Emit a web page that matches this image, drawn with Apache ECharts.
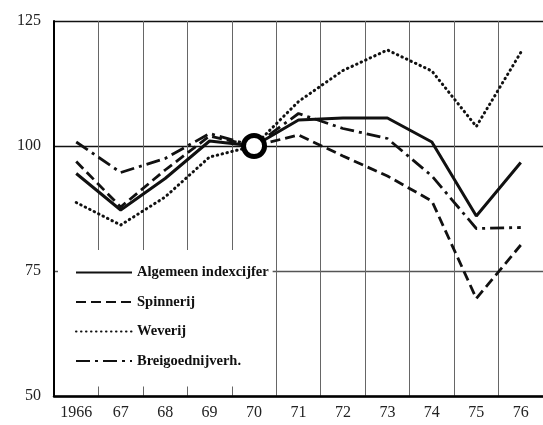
<!DOCTYPE html>
<html lang="nl">
<head>
    <meta charset="UTF-8">
    <title>Indexcijfers textielindustrie</title>
    <script src="https://cdn.jsdelivr.net/npm/echarts@6/dist/echarts.min.js"></script>
    <style>
        html, body { margin: 0; padding: 0; background: #fff; }
    </style>
</head>
<body>
<div id="main" style="width: 543px;height:425px;"></div>
<script type="text/javascript">
// jaren (categorie-as)
let years = ['1966', '67', '68', '69', '70', '71', '72', '73', '74', '75', '76'];
// y-as ticks
let yTicks = [50, 75, 100, 125];
// reeksen (1970 = 100)
let algemeen = [94.5, 87.2, 93.5, 101, 100, 105.2, 105.6, 105.6, 100.8, 86, 96.7];
let spinnerij = [96.9, 87.8, 95.2, 102, 100, 102.2, 98, 94, 89, 69.5, 80.2];
let weverij = [88.7, 84.2, 89.8, 97.8, 100, 108.9, 115.1, 119.2, 115, 103.9, 118.7];
let breigoed = [100.8, 94.7, 97.5, 102.5, 100, 106.5, 103.5, 101.5, 94, 83.5, 83.7];
// basisjaar
let baseYear = '70';
let baseValue = 100;

let myChart = echarts.init(document.getElementById("main"));
let serif = '"Liberation Serif", "DejaVu Serif", serif';

function lineSeries(name, data, type, width, cap) {
    return {
        name: name,
        type: 'line',
        data: data,
        symbol: 'none',
        showSymbol: false,
        z: 3,
        itemStyle: {color: '#111'},
        lineStyle: {color: '#111', width: width, type: type, cap: cap || 'butt'}
    };
}

let option = {
    animation: false,
    backgroundColor: '#fff',
    grid: {left: 54, top: 21, width: 494, height: 375},
    legend: {
        orient: 'vertical',
        left: 58,
        top: 250,
        padding: [15, 4, 18, 17],
        backgroundColor: '#fff',
        itemWidth: 56,
        itemHeight: 14,
        itemGap: 14.5,
        itemTextGap: 9,
        z: 5,
        itemStyle: {opacity: 0},
        textStyle: {fontFamily: serif, fontSize: 14.5, fontWeight: 'bold', color: '#111'},
        data: ['Algemeen indexcijfer', 'Spinnerij', 'Weverij', 'Breigoednijverh.']
    },
    xAxis: {
        type: 'category',
        data: years,
        boundaryGap: true,
        axisLine: {lineStyle: {color: '#000', width: 2.5}},
        axisTick: {show: false},
        axisLabel: {fontFamily: serif, fontSize: 16, color: '#222', margin: 9, interval: 0},
        splitLine: {show: true, lineStyle: {color: '#666', width: 1}}
    },
    yAxis: {
        type: 'value',
        min: yTicks[0],
        max: yTicks[yTicks.length - 1],
        interval: 25,
        axisLine: {show: true, lineStyle: {color: '#000', width: 2}},
        axisTick: {show: false},
        axisLabel: {fontFamily: serif, fontSize: 16, color: '#222', margin: 13},
        splitLine: {show: true, lineStyle: {color: ['#000', '#555', '#111', '#111'], width: 1.4}}
    },
    series: [
        lineSeries('Algemeen indexcijfer', algemeen, 'solid', 3),
        lineSeries('Spinnerij', spinnerij, [10, 5], 2.8),
        lineSeries('Weverij', weverij, [0.5, 4.5], 3, 'round'),
        lineSeries('Breigoednijverh.', breigoed, [14, 5, 3, 5], 2.8),
        {
            name: 'basis',
            type: 'scatter',
            z: 6,
            symbol: 'circle',
            symbolSize: 21,
            itemStyle: {color: '#fff', borderColor: '#000', borderWidth: 5, opacity: 1},
            data: [[baseYear, baseValue]]
        }
    ]
};
myChart.setOption(option);
</script>
</body>
</html>
